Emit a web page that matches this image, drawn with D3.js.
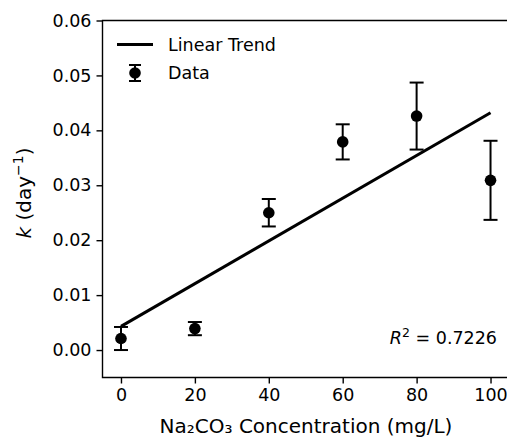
<!DOCTYPE html>
<html>
<head>
<meta charset="utf-8">
<script src="https://cdn.jsdelivr.net/npm/d3@7"></script>
<style>
  body { margin: 0; background: #fff; overflow: hidden; }
  svg { display: block; }
  text { font-family: "DejaVu Sans", sans-serif; fill: #000; }
</style>
</head>
<body>
<div id="chart"></div>
<script>
// data
var concentrations = [0, 20, 40, 60, 80, 100];
var rates = [0.0021, 0.0039, 0.0250, 0.0379, 0.0426, 0.0309];
var rateErrors = [0.0021, 0.0012, 0.0025, 0.0032, 0.0061, 0.0072];
var trendX = [0, 100];
var trendY = [0.0043, 0.0432];
var xTicks = [0, 20, 40, 60, 80, 100];
var yTicks = [0.00, 0.01, 0.02, 0.03, 0.04, 0.05, 0.06];
var rSquared = "0.7226";

var W = 507, H = 439;
var margin = {top: 20.5, left: 102.5, right: 509, bottom: 377.5};

var svg = d3.select("#chart").append("svg")
  .attr("width", W)
  .attr("height", H);

var x = d3.scaleLinear().domain([-5, 105]).range([margin.left, margin.right]);
var y = d3.scaleLinear().domain([-0.005, 0.06]).range([margin.bottom, margin.top]);

// axes
var xAxis = d3.axisBottom(x).tickValues(xTicks).tickSize(6).tickPadding(5)
  .tickFormat(d3.format("d"));
var yAxis = d3.axisLeft(y).tickValues(yTicks).tickSize(6).tickPadding(5)
  .tickFormat(d3.format(".2f"));

var gx = svg.append("g")
  .attr("transform", "translate(0," + margin.bottom + ")")
  .call(xAxis);
var gy = svg.append("g")
  .attr("transform", "translate(" + margin.left + ",0)")
  .call(yAxis);

[gx, gy].forEach(function(g) {
  g.select(".domain").remove();
  g.selectAll(".tick line").attr("stroke", "#000").attr("stroke-width", 1.4);
  g.selectAll(".tick text").attr("font-size", "17.5px").attr("fill", "#000");
});

// spines: left, top, bottom (the right one is cropped off in the reference)
svg.append("path")
  .attr("d", "M" + W + "," + margin.top + "H" + margin.left + "V" + margin.bottom + "H" + W)
  .attr("fill", "none")
  .attr("stroke", "#000")
  .attr("stroke-width", 1.4);

// trend line
var line = d3.line()
  .x(function(d) { return x(d[0]); })
  .y(function(d) { return y(d[1]); });

svg.append("path")
  .datum(d3.zip(trendX, trendY))
  .attr("d", line)
  .attr("fill", "none")
  .attr("stroke", "#000")
  .attr("stroke-width", 3);

// error bars + points
var pts = svg.append("g").selectAll("g")
  .data(concentrations)
  .enter().append("g");

pts.append("line")
  .attr("x1", function(d) { return x(d); })
  .attr("x2", function(d) { return x(d); })
  .attr("y1", function(d, i) { return y(rates[i] - rateErrors[i]); })
  .attr("y2", function(d, i) { return y(rates[i] + rateErrors[i]); })
  .attr("stroke", "#000").attr("stroke-width", 2);

[-1, 1].forEach(function(s) {
  pts.append("line")
    .attr("x1", function(d) { return x(d) - 7; })
    .attr("x2", function(d) { return x(d) + 7; })
    .attr("y1", function(d, i) { return y(rates[i] + s * rateErrors[i]); })
    .attr("y2", function(d, i) { return y(rates[i] + s * rateErrors[i]); })
    .attr("stroke", "#000").attr("stroke-width", 2);
});

pts.append("circle")
  .attr("cx", function(d) { return x(d); })
  .attr("cy", function(d, i) { return y(rates[i]); })
  .attr("r", 5.8)
  .attr("fill", "#000");

// legend
var leg = svg.append("g");
leg.append("line")
  .attr("x1", 117).attr("x2", 153).attr("y1", 44.5).attr("y2", 44.5)
  .attr("stroke", "#000").attr("stroke-width", 3);
leg.append("text").attr("x", 168).attr("y", 50.5)
  .attr("font-size", "17.5px").text("Linear Trend");

leg.append("line")
  .attr("x1", 135).attr("x2", 135).attr("y1", 65).attr("y2", 81)
  .attr("stroke", "#000").attr("stroke-width", 2);
[65, 81].forEach(function(yy) {
  leg.append("line")
    .attr("x1", 129).attr("x2", 141).attr("y1", yy).attr("y2", yy)
    .attr("stroke", "#000").attr("stroke-width", 2);
});
leg.append("circle").attr("cx", 135).attr("cy", 73).attr("r", 5.8).attr("fill", "#000");
leg.append("text").attr("x", 168).attr("y", 79)
  .attr("font-size", "17.5px").text("Data");

// R^2 annotation
var r2 = svg.append("text")
  .attr("x", 497).attr("y", 344)
  .attr("text-anchor", "end")
  .attr("font-size", "17.5px");
r2.append("tspan").attr("font-style", "italic").text("R");
r2.append("tspan").attr("font-size", "12.5px").attr("dy", -7).text("2");
r2.append("tspan").attr("dy", 7).text(" = " + rSquared);

// axis labels
svg.append("text")
  .attr("x", 306)
  .attr("y", 433)
  .attr("text-anchor", "middle")
  .attr("font-size", "20px")
  .text("Na₂CO₃ Concentration (mg/L)");

var yl = svg.append("text")
  .attr("transform", "translate(31,193) rotate(-90)")
  .attr("text-anchor", "middle")
  .attr("font-size", "20px");
yl.append("tspan").attr("font-style", "italic").text("k");
yl.append("tspan").text(" (day");
yl.append("tspan").attr("font-size", "14px").attr("dy", -8).text("−1");
yl.append("tspan").attr("dy", 8).text(")");
</script>
</body>
</html>
